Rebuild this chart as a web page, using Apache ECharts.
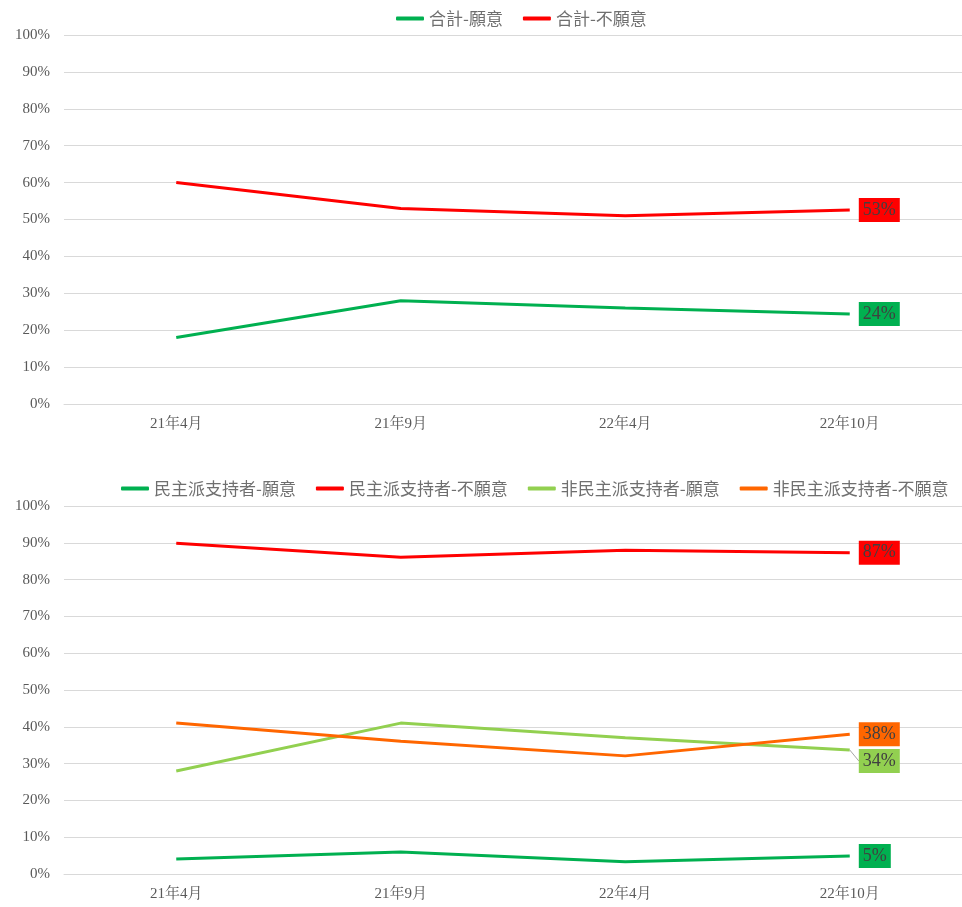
<!DOCTYPE html>
<html><head><meta charset="utf-8">
<script src="https://cdn.jsdelivr.net/npm/echarts@6/dist/echarts.min.js"></script>
<style>html,body{margin:0;padding:0;background:#fff}#c{width:962px;height:907px}</style>
</head><body><div id="c"></div>
<script>
const categories = ['21年4月', '21年9月', '22年4月', '22年10月'];
const totalYes = [18, 28, 26, 24.4];
const totalNo = [60, 53, 51, 52.6];
const demoYes = [4.1, 6, 3.3, 4.9];
const demoNo = [89.9, 86.1, 88, 87.3];
const nonDemoYes = [28, 41, 37, 33.7];
const nonDemoNo = [41, 36.1, 32.1, 38];

const serif = '"Liberation Serif","Noto Serif CJK SC","Noto Sans CJK SC",serif';
const sans = '"Noto Sans CJK SC","Noto Sans",sans-serif';
const textColor = '#595959';

function mkData(arr, color) {
  return arr.map((v, i) => {
    if (i !== arr.length - 1) return { value: v, label: { show: false } };
    return {
      value: v,
      label: {
        show: true, position: 'right', distance: 9,
        formatter: p => Math.round(p.value) + '%',
        backgroundColor: color, color: '#404040',
        fontFamily: serif, fontSize: 18, lineHeight: 18, padding: [4, 4, 2, 4]
      }
    };
  });
}

function line(name, arr, color, idx, dy) {
  const s = {
    name, type: 'line', xAxisIndex: idx, yAxisIndex: idx,
    data: mkData(arr, color), symbol: 'circle', symbolSize: 0.1, showSymbol: true,
    lineStyle: { color, width: 3 }, itemStyle: { color },
    emphasis: { disabled: true }, animation: false
  };
  if (dy) {
    s.labelLayout = p => (p.dataIndex === arr.length - 1 ? { dy: dy } : {});
    s.labelLine = { show: true, lineStyle: { color: '#a6a6a6', width: 1 } };
  }
  return s;
}

const xAx = idx => ({
  type: 'category', gridIndex: idx, data: categories,
  axisLine: { lineStyle: { color: '#d9d9d9' } }, axisTick: { show: false },
  axisLabel: { color: textColor, fontFamily: serif, fontSize: 15, margin: 13 }
});
const yAx = idx => ({
  type: 'value', gridIndex: idx, min: 0, max: 100, interval: 10,
  axisLabel: { color: textColor, fontFamily: serif, fontSize: 15, margin: 14, formatter: '{value}%' },
  splitLine: { lineStyle: { color: '#d9d9d9', width: 1 } },
  axisLine: { show: false }, axisTick: { show: false }
});

const legendText = { color: '#6f6f6f', fontFamily: sans, fontSize: 17 };

const option = {
  backgroundColor: '#fff',
  animation: false,
  legend: [
    { data: ['合計-願意', '合計-不願意'], top: 5, left: 391, width: 560, icon: 'roundRect',
      itemWidth: 28, itemHeight: 4, itemGap: 20, itemTextGap: 2, textStyle: legendText },
    { data: ['民主派支持者-願意', '民主派支持者-不願意', '非民主派支持者-願意', '非民主派支持者-不願意'],
      top: 475, left: 116, width: 900, icon: 'roundRect',
      itemWidth: 28, itemHeight: 4, itemGap: 20, itemTextGap: 2, textStyle: legendText }
  ],
  grid: [
    { left: 64, right: 0, top: 35, height: 369 },
    { left: 64, right: 0, top: 506, height: 368 }
  ],
  xAxis: [xAx(0), xAx(1)],
  yAxis: [yAx(0), yAx(1)],
  series: [
    line('合計-願意', totalYes, '#00B050', 0),
    line('合計-不願意', totalNo, '#FF0000', 0),
    line('民主派支持者-願意', demoYes, '#00B050', 1),
    line('民主派支持者-不願意', demoNo, '#FF0000', 1),
    line('非民主派支持者-願意', nonDemoYes, '#92D050', 1, 11),
    line('非民主派支持者-不願意', nonDemoNo, '#FF6600', 1)
  ]
};
const chart = echarts.init(document.getElementById('c'));
chart.setOption(option);
</script></body></html>
